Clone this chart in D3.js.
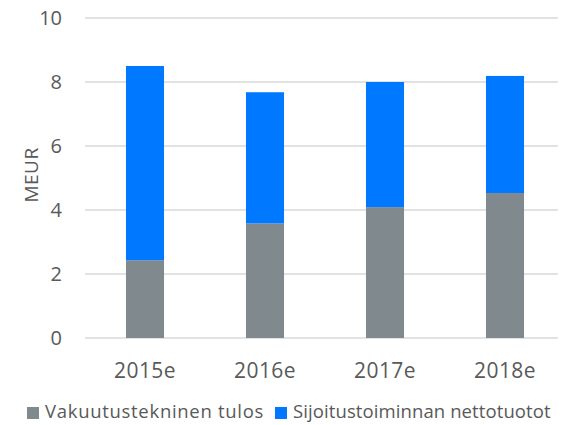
<!DOCTYPE html>
<html>
<head>
<meta charset="utf-8">
<script src="https://cdn.jsdelivr.net/npm/d3@7"></script>
<style>
  body { margin: 0; background: #fff; }
  text { font-family: "Open Sans", Lato, sans-serif; fill: #595959; }
</style>
</head>
<body>
<div id="vis"></div>
<script>
// data
var years = ["2015e", "2016e", "2017e", "2018e"];
var vakuutustekninen = [2.43, 3.58, 4.09, 4.53];
var sijoitustoiminta = [6.07, 4.10, 3.91, 3.66];
var yTicks = [0, 2, 4, 6, 8, 10];
var seriesNames = ["Vakuutustekninen tulos", "Sijoitustoiminnan nettotuotot"];
var seriesColors = ["#7f898e", "#0078ff"];

var width = 568, height = 425;
var plotLeft = 85, plotRight = 565, plotTop = 18, plotBottom = 338;

var svg = d3.select("#vis").append("svg")
    .attr("width", width)
    .attr("height", height);

var x = d3.scaleBand()
    .domain(years)
    .range([plotLeft, plotRight])
    .paddingInner(0.683)
    .paddingOuter(0.3415);

var y = d3.scaleLinear()
    .domain([0, 10])
    .range([plotBottom, plotTop]);

// gridlines
svg.append("g")
  .selectAll("line")
  .data(yTicks)
  .enter().append("line")
    .attr("x1", plotLeft)
    .attr("x2", 558)
    .attr("y1", function(d) { return y(d); })
    .attr("y2", function(d) { return y(d); })
    .style("stroke", "#d9d9d9")
    .style("stroke-width", 1.5);

// y tick labels
svg.append("g")
  .selectAll("text")
  .data(yTicks)
  .enter().append("text")
    .attr("x", 62)
    .attr("y", function(d) { return y(d); })
    .attr("dy", "0.36em")
    .attr("text-anchor", "end")
    .style("font-size", "20px")
    .text(function(d) { return d; });

// axis title
svg.append("text")
  .attr("transform", "translate(38,175) rotate(-90)")
  .attr("text-anchor", "middle")
  .style("font-size", "19px")
  .style("letter-spacing", "0.5px")
  .text("MEUR");

// stacked bars
var rows = years.map(function(yr, i) {
  return { year: yr, a: vakuutustekninen[i], b: sijoitustoiminta[i] };
});
var layers = d3.stack().keys(["a", "b"])(rows);

svg.append("g")
  .selectAll("g")
  .data(layers)
  .enter().append("g")
    .style("fill", function(d, i) { return seriesColors[i]; })
  .selectAll("rect")
  .data(function(d) { return d; })
  .enter().append("rect")
    .attr("x", function(d) { return x(d.data.year); })
    .attr("width", x.bandwidth())
    .attr("y", function(d) { return y(d[1]); })
    .attr("height", function(d) { return y(d[0]) - y(d[1]); });

// x labels
svg.append("g")
  .selectAll("text")
  .data(years)
  .enter().append("text")
    .attr("x", function(d) { return x(d) + x.bandwidth() / 2; })
    .attr("y", 378)
    .attr("text-anchor", "middle")
    .style("font-size", "21px")
    .style("letter-spacing", "0.4px")
    .text(function(d) { return d; });

// legend
var legendX = [27, 275];
var legend = svg.append("g")
  .selectAll("g")
  .data(seriesNames)
  .enter().append("g")
    .attr("transform", function(d, i) { return "translate(" + legendX[i] + ",407)"; });
legend.append("rect")
  .attr("width", 12)
  .attr("height", 12)
  .style("fill", function(d, i) { return seriesColors[i]; });
legend.append("text")
  .attr("x", 18)
  .attr("y", 11)
  .style("font-size", "18.5px")
  .style("letter-spacing", function(d, i) { return i === 0 ? "0.7px" : "0.1px"; })
  .text(function(d) { return d; });
</script>
</body>
</html>
